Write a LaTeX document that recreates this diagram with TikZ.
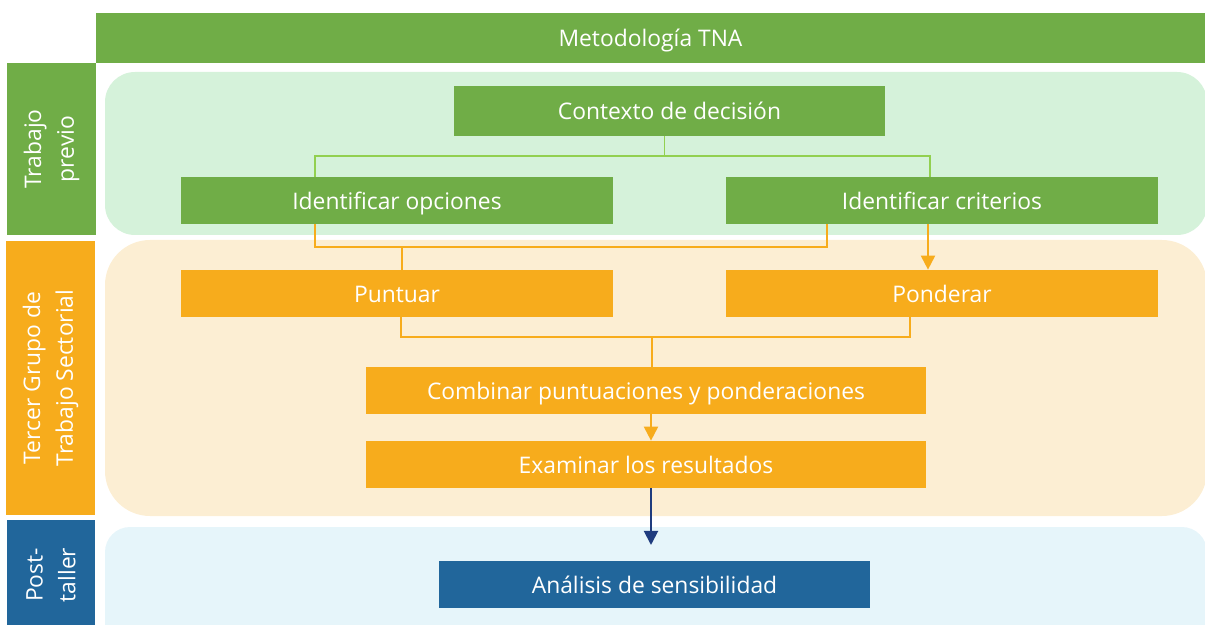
\documentclass[tikz,border=0pt]{standalone}
\usepackage{fontspec}
\setmainfont{Open Sans}
\usetikzlibrary{arrows.meta,calc}

\definecolor{tnagreen}{HTML}{70AD47}
\definecolor{tnaorange}{HTML}{F7AC1C}
\definecolor{tnablue}{HTML}{21669B}
\definecolor{lightgreen}{HTML}{D5F2DA}
\definecolor{lightorange}{HTML}{FCEED3}
\definecolor{lightblue}{HTML}{E6F5FA}
\definecolor{linegreen}{HTML}{92D050}
\definecolor{navy}{HTML}{1F3C7E}

\begin{document}
\begin{tikzpicture}[x = 0.02cm, y = -0.02cm,
	box/.style = {fill = #1, text = white, inner sep = 0pt, minimum width = 8.64cm, minimum height = 0.94cm, text height = 2.1ex, text depth = 0.2ex, font = \fontsize{13}{15}\selectfont},
	sidebox/.style = {fill = #1, text = white, inner sep = 0pt, rotate = 90, minimum height = 1.78cm, align = center, font = \fontsize{13}{18.7}\selectfont},
	gline/.style = {draw = linegreen, line width = 1.1pt},
	oline/.style = {draw = tnaorange, line width = 1.1pt},
	oarrow/.style = {oline, -{Triangle[width = 8pt, length = 8pt]}},
	barrow/.style = {draw = navy, line width = 1.1pt, -{Triangle[width = 8pt, length = 8pt]}}]
	\useasboundingbox (0,0) rectangle (1205,625);

	% panels
	\foreach \c/\t/\b/\r in {lightgreen/72/235/0.6, lightorange/240/516/0.9, lightblue/527/660/0.5}
		{\fill[\c, rounded corners = \r cm] (105,\t) rectangle (1207,\b);}

	% header and side labels
	\node[box = tnagreen, minimum width = 22.18cm, minimum height = 1cm] (title) at (650.5,38) {Metodología TNA};
	\node[sidebox = tnagreen, minimum width = 3.44cm] (previo) at (51.5,149) {Trabajo\\previo};
	\node[sidebox = tnaorange, minimum width = 5.48cm] (tercer) at (50.5,378) {Tercer Grupo de\\Trabajo Sectorial};
	\node[sidebox = tnablue, minimum width = 2.2cm] (post) at (51,575) {Post-\\taller};

	% steps
	\node[box = tnagreen, minimum width = 8.62cm, minimum height = 1cm] (ctx) at (669.5,111) {Contexto de decisión};
	\node[box = tnagreen] (opc) at (397,200.5) {Identificar opciones};
	\node[box = tnagreen] (cri) at (942,200.5) {Identificar criterios};
	\node[box = tnaorange] (pun) at (397,293.5) {Puntuar};
	\node[box = tnaorange] (pon) at (942,293.5) {Ponderar};
	\node[box = tnaorange, minimum width = 11.2cm] (com) at (646,390.5) {Combinar puntuaciones y ponderaciones};
	\node[box = tnaorange, minimum width = 11.2cm] (exa) at (646,464.5) {Examinar los resultados};
	\node[box = tnablue, minimum width = 8.62cm] (ana) at (654.5,584.5) {Análisis de sensibilidad};
	\coordinate (anaend) at (651,545);

	% connectors
	\draw[gline] ($(ctx.south)+(-5,0)$) -- ++(0,20);
	\draw[gline] ($(opc.north)+(-82,0)$) |- ($(cri.north)+(-12,-21)$) -- ($(cri.north)+(-12,0)$);
	\draw[oline] ($(opc.south)+(-82,0)$) |- ($(cri.south)+(-115,23)$) -- ($(cri.south)+(-115,0)$);
	\draw[oline] ($(pun.north)+(5,0)$) -- ++(0,-23);
	\draw[oarrow] ($(cri.south)+(-14,0)$) -- ($(pon.north)+(-14,0)$);
	\draw[oline] ($(pun.south)+(4,0)$) |- ($(pon.south)+(-32,20)$) -- ($(pon.south)+(-32,0)$);
	\draw[oline] ($(com.north)+(6,0)$) -- ++(0,-30);
	\draw[oarrow] ($(com.south)+(5,0)$) -- ($(exa.north)+(5,0)$);
	\draw[barrow] ($(exa.south)+(5,0)$) -- (anaend);

\end{tikzpicture}
\end{document}
